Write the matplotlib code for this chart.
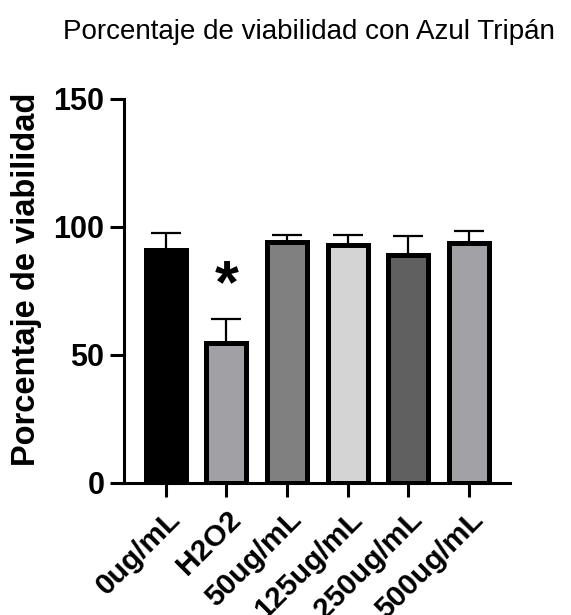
import matplotlib
matplotlib.use("Agg")
import matplotlib.pyplot as plt
import numpy as np

plt.rcParams['font.family'] = ['Liberation Sans', 'DejaVu Sans']

categories = ["0ug/mL", "H2O2", "50ug/mL", "125ug/mL", "250ug/mL", "500ug/mL"]
means = [91, 54.7, 94, 93, 89, 93.8]
errors = [6.8, 9.2, 2.7, 4.0, 7.4, 4.8]
colors = ["#000000", "#a0a0a5", "#808080", "#d4d4d4", "#606060", "#a2a1a6"]
yticks = [0, 50, 100, 150]

fig = plt.figure(figsize=(5.71, 6.15), dpi=100)
ax = fig.add_axes([124/571, 1-483/615, (510-124)/571, (483-99)/615])

x = np.arange(len(categories))
ax.bar(x, means, width=0.66, color=colors, edgecolor="black", linewidth=3.6, zorder=2)
ax.errorbar(x, means, yerr=[np.zeros(len(means)), errors], fmt="none", ecolor="black",
            elinewidth=1.6, capsize=11, capthick=1.6, zorder=1)

ax.text(1, 76.5, "*", ha="center", va="center", fontsize=44, fontweight="bold")

ax.set_xlim(-0.69, 5.68)
ax.set_ylim(0, 150)
ax.set_yticks(yticks)
ax.set_xticks(x)
ax.set_xticklabels(categories, rotation=45, ha="right", rotation_mode="anchor",
                   fontsize=21.5, fontweight="bold")
for lab in ax.get_yticklabels():
    lab.set_fontsize(22)
    lab.set_fontweight("bold")
ax.tick_params(axis="both", length=10, width=2.2, direction="out")
ax.tick_params(axis="y", pad=4)
ax.tick_params(axis="x", pad=6)
for s in ["top", "right"]:
    ax.spines[s].set_visible(False)
for s in ["left", "bottom"]:
    ax.spines[s].set_linewidth(2.2)

ax.set_ylabel("Porcentaje de viabilidad", fontsize=23.5, fontweight="bold")
ax.yaxis.set_label_coords(-0.213, 0.53)
fig.text(309/571, 1-32/615, "Porcentaje de viabilidad con Azul Tripán", ha="center",
         va="center", fontsize=20)

fig.savefig("out.png", dpi=100)
